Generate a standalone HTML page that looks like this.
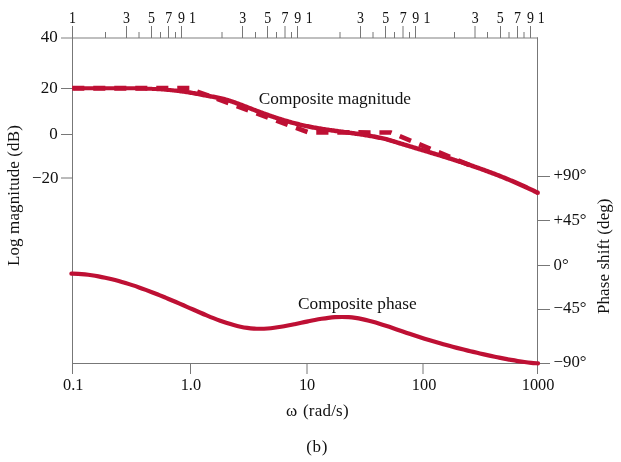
<!DOCTYPE html>
<html><head><meta charset="utf-8"><title>Bode plot</title>
<style>
html,body{margin:0;padding:0;background:#fff;}
body{width:621px;height:462px;overflow:hidden;position:relative;}
svg{position:absolute;left:0;top:0;display:block;will-change:transform;}
text{font-family:"Liberation Serif",serif;font-size:17px;fill:#111;}
</style></head><body>
<svg width="621" height="462" viewBox="0 0 621 462">
<rect width="621" height="462" fill="#fff"/>

<line x1="61" y1="38" x2="538" y2="38" stroke="#808080" stroke-width="1.2"/>
<line x1="72.5" y1="26" x2="72.5" y2="374" stroke="#777" stroke-width="1"/>
<line x1="537.5" y1="37.4" x2="537.5" y2="374" stroke="#777" stroke-width="1"/>
<line x1="72" y1="363.5" x2="550" y2="363.5" stroke="#777" stroke-width="1"/>
<line x1="126.5" y1="26" x2="126.5" y2="38" stroke="#777" stroke-width="1"/>
<line x1="151.5" y1="26" x2="151.5" y2="38" stroke="#777" stroke-width="1"/>
<line x1="168.5" y1="26" x2="168.5" y2="38" stroke="#777" stroke-width="1"/>
<line x1="181.5" y1="26" x2="181.5" y2="38" stroke="#777" stroke-width="1"/>
<line x1="242.5" y1="26" x2="242.5" y2="38" stroke="#777" stroke-width="1"/>
<line x1="267.5" y1="26" x2="267.5" y2="38" stroke="#777" stroke-width="1"/>
<line x1="285.0" y1="26" x2="285.0" y2="38" stroke="#777" stroke-width="1"/>
<line x1="297.5" y1="26" x2="297.5" y2="38" stroke="#777" stroke-width="1"/>
<line x1="360.5" y1="26" x2="360.5" y2="38" stroke="#777" stroke-width="1"/>
<line x1="385.5" y1="26" x2="385.5" y2="38" stroke="#777" stroke-width="1"/>
<line x1="403.0" y1="26" x2="403.0" y2="38" stroke="#777" stroke-width="1"/>
<line x1="415.5" y1="26" x2="415.5" y2="38" stroke="#777" stroke-width="1"/>
<line x1="475.0" y1="26" x2="475.0" y2="38" stroke="#777" stroke-width="1"/>
<line x1="500.5" y1="26" x2="500.5" y2="38" stroke="#777" stroke-width="1"/>
<line x1="517.5" y1="26" x2="517.5" y2="38" stroke="#777" stroke-width="1"/>
<line x1="530.5" y1="26" x2="530.5" y2="38" stroke="#777" stroke-width="1"/>
<line x1="105.5" y1="32" x2="105.5" y2="38" stroke="#777" stroke-width="1"/>
<line x1="139.0" y1="32" x2="139.0" y2="38" stroke="#777" stroke-width="1"/>
<line x1="160.5" y1="32" x2="160.5" y2="38" stroke="#777" stroke-width="1"/>
<line x1="175.5" y1="32" x2="175.5" y2="38" stroke="#777" stroke-width="1"/>
<line x1="222.0" y1="32" x2="222.0" y2="38" stroke="#777" stroke-width="1"/>
<line x1="255.5" y1="32" x2="255.5" y2="38" stroke="#777" stroke-width="1"/>
<line x1="276.5" y1="32" x2="276.5" y2="38" stroke="#777" stroke-width="1"/>
<line x1="291.5" y1="32" x2="291.5" y2="38" stroke="#777" stroke-width="1"/>
<line x1="340.0" y1="32" x2="340.0" y2="38" stroke="#777" stroke-width="1"/>
<line x1="373.0" y1="32" x2="373.0" y2="38" stroke="#777" stroke-width="1"/>
<line x1="394.5" y1="32" x2="394.5" y2="38" stroke="#777" stroke-width="1"/>
<line x1="409.5" y1="32" x2="409.5" y2="38" stroke="#777" stroke-width="1"/>
<line x1="454.5" y1="32" x2="454.5" y2="38" stroke="#777" stroke-width="1"/>
<line x1="487.5" y1="32" x2="487.5" y2="38" stroke="#777" stroke-width="1"/>
<line x1="509.0" y1="32" x2="509.0" y2="38" stroke="#777" stroke-width="1"/>
<line x1="524.0" y1="32" x2="524.0" y2="38" stroke="#777" stroke-width="1"/>
<line x1="61" y1="88.5" x2="72.5" y2="88.5" stroke="#777" stroke-width="1"/>
<line x1="61" y1="134.5" x2="72.5" y2="134.5" stroke="#777" stroke-width="1"/>
<line x1="61" y1="178.0" x2="72.5" y2="178.0" stroke="#777" stroke-width="1"/>
<line x1="537.5" y1="176.5" x2="550" y2="176.5" stroke="#777" stroke-width="1"/>
<line x1="537.5" y1="220.5" x2="550" y2="220.5" stroke="#777" stroke-width="1"/>
<line x1="537.5" y1="265.5" x2="550" y2="265.5" stroke="#777" stroke-width="1"/>
<line x1="537.5" y1="309.5" x2="550" y2="309.5" stroke="#777" stroke-width="1"/>
<line x1="190.5" y1="363.5" x2="190.5" y2="374" stroke="#777" stroke-width="1"/>
<line x1="307.0" y1="363.5" x2="307.0" y2="374" stroke="#777" stroke-width="1"/>
<line x1="423.0" y1="363.5" x2="423.0" y2="374" stroke="#777" stroke-width="1"/>
<path d="M72.25 88.25 L189.5 88.25" fill="none" stroke="#BE1034" stroke-width="5.2" stroke-dasharray="12.1 8.9"/>
<path d="M197.2 91.62 L308.5 132.4 L390.8 132.5 L469.4 165.0" fill="none" stroke="#BE1034" stroke-width="4.7" stroke-dasharray="12.2 8.85" stroke-linejoin="miter"/>
<path d="M74.07 90.23 L75.20 90.25 L76.32 90.26 L77.45 90.27 L78.57 90.28 L79.70 90.29 L80.82 90.30 L81.95 90.31 L83.07 90.31 L84.20 90.32 L85.32 90.32 L86.44 90.32 L87.57 90.33 L88.69 90.33 L89.82 90.33 L90.94 90.33 L92.06 90.32 L93.19 90.32 L94.31 90.32 L95.43 90.32 L96.56 90.31 L97.68 90.31 L98.80 90.30 L99.93 90.30 L101.05 90.29 L102.17 90.29 L103.29 90.28 L104.42 90.28 L105.54 90.27 L106.66 90.27 L107.78 90.26 L108.91 90.26 L110.03 90.25 L111.15 90.25 L112.27 90.24 L113.39 90.24 L114.52 90.24 L115.64 90.24 L116.76 90.24 L117.88 90.23 L119.00 90.23 L120.12 90.24 L121.24 90.24 L122.36 90.24 L123.48 90.24 L124.60 90.25 L125.72 90.25 L126.84 90.26 L127.96 90.27 L129.08 90.28 L130.20 90.29 L131.32 90.30 L132.44 90.32 L133.56 90.33 L134.68 90.35 L135.80 90.37 L136.92 90.39 L138.04 90.41 L139.16 90.44 L140.28 90.47 L141.40 90.49 L142.52 90.52 L143.64 90.56 L144.75 90.59 L145.87 90.63 L146.99 90.67 L148.11 90.71 L149.23 90.76 L150.35 90.80 L151.46 90.85 L152.58 90.90 L153.70 90.96 L154.82 91.02 L155.93 91.08 L157.05 91.14 L158.17 91.21 L159.29 91.27 L160.40 91.35 L161.52 91.43 L162.63 91.52 L163.75 91.61 L164.87 91.70 L165.98 91.80 L167.10 91.90 L168.21 92.00 L169.33 92.11 L170.44 92.22 L171.56 92.33 L172.67 92.45 L173.79 92.57 L174.90 92.70 L176.02 92.83 L177.13 92.96 L178.24 93.10 L179.36 93.24 L180.47 93.39 L181.59 93.53 L182.70 93.69 L183.81 93.85 L184.92 94.01 L186.04 94.18 L187.15 94.35 L188.26 94.53 L189.37 94.71 L190.48 94.90 L191.59 95.09 L192.71 95.29 L193.82 95.49 L194.93 95.70 L196.04 95.90 L197.16 96.11 L198.28 96.32 L199.40 96.54 L200.52 96.76 L201.64 96.98 L202.76 97.19 L203.89 97.41 L205.02 97.62 L206.14 97.84 L207.27 98.04 L208.40 98.25 L209.53 98.45 L210.66 98.65 L211.78 98.85 L212.89 99.05 L214.01 99.25 L215.12 99.46 L216.23 99.67 L217.33 99.89 L218.43 100.12 L219.53 100.37 L220.63 100.62 L221.73 100.88 L222.83 101.16 L223.93 101.45 L225.03 101.76 L226.13 102.08 L227.23 102.41 L228.33 102.75 L229.44 103.10 L230.55 103.46 L231.65 103.83 L232.76 104.21 L233.87 104.60 L234.98 105.00 L236.10 105.40 L237.21 105.81 L238.32 106.22 L239.44 106.64 L240.55 107.06 L241.67 107.49 L242.79 107.92 L243.91 108.35 L245.03 108.79 L246.15 109.23 L247.27 109.66 L248.39 110.10 L249.52 110.54 L250.64 110.98 L251.77 111.41 L252.90 111.85 L254.02 112.28 L255.15 112.71 L256.28 113.14 L257.40 113.56 L258.53 113.98 L259.66 114.40 L260.78 114.82 L261.91 115.23 L263.04 115.64 L264.17 116.05 L265.29 116.45 L266.42 116.85 L267.55 117.25 L268.68 117.64 L269.81 118.04 L270.94 118.42 L272.06 118.81 L273.19 119.19 L274.32 119.56 L275.45 119.94 L276.58 120.31 L277.71 120.67 L278.84 121.03 L279.97 121.39 L281.10 121.74 L282.23 122.09 L283.36 122.43 L284.49 122.77 L285.62 123.11 L286.75 123.44 L287.88 123.77 L289.01 124.09 L290.14 124.40 L291.28 124.72 L292.41 125.02 L293.54 125.32 L294.67 125.62 L295.80 125.91 L296.93 126.20 L298.07 126.48 L299.20 126.75 L300.33 127.02 L301.47 127.29 L302.60 127.55 L303.73 127.80 L304.86 128.05 L306.00 128.29 L307.13 128.52 L308.26 128.75 L309.39 128.98 L310.53 129.20 L311.66 129.42 L312.79 129.63 L313.92 129.83 L315.05 130.04 L316.18 130.23 L317.31 130.43 L318.44 130.62 L319.57 130.81 L320.70 130.99 L321.82 131.17 L322.95 131.35 L324.08 131.52 L325.21 131.69 L326.34 131.86 L327.46 132.03 L328.59 132.19 L329.72 132.35 L330.84 132.51 L331.97 132.67 L333.09 132.83 L334.22 132.98 L335.34 133.14 L336.47 133.29 L337.59 133.44 L338.72 133.59 L339.84 133.74 L340.96 133.89 L342.08 134.04 L343.21 134.19 L344.33 134.34 L345.45 134.49 L346.57 134.64 L347.69 134.79 L348.82 134.94 L349.94 135.10 L351.06 135.25 L352.18 135.40 L353.30 135.56 L354.42 135.72 L355.53 135.88 L356.65 136.04 L357.77 136.20 L358.89 136.36 L360.01 136.53 L361.12 136.70 L362.24 136.87 L363.36 137.05 L364.48 137.23 L365.59 137.41 L366.71 137.59 L367.82 137.78 L368.94 137.97 L370.05 138.16 L371.17 138.36 L372.28 138.57 L373.39 138.78 L374.51 138.99 L375.62 139.21 L376.74 139.43 L377.86 139.66 L378.97 139.89 L380.09 140.12 L381.20 140.35 L382.31 140.59 L383.41 140.84 L384.50 141.10 L385.60 141.37 L386.69 141.66 L387.78 141.97 L388.89 142.30 L389.99 142.63 L391.11 142.97 L392.23 143.32 L393.36 143.67 L394.48 144.01 L395.60 144.36 L396.73 144.70 L397.85 145.04 L398.97 145.39 L400.10 145.73 L401.22 146.07 L402.34 146.41 L403.47 146.75 L404.59 147.09 L405.71 147.43 L406.84 147.77 L407.96 148.11 L409.08 148.45 L410.21 148.78 L411.33 149.12 L412.45 149.46 L413.57 149.80 L414.70 150.14 L415.82 150.47 L416.94 150.81 L418.06 151.15 L419.19 151.49 L420.31 151.82 L421.43 152.16 L422.55 152.50 L423.68 152.84 L424.80 153.18 L425.92 153.52 L427.04 153.86 L428.16 154.20 L429.29 154.54 L430.41 154.88 L431.53 155.22 L432.65 155.56 L433.77 155.90 L434.89 156.24 L436.01 156.59 L437.14 156.93 L438.26 157.27 L439.38 157.62 L440.50 157.97 L441.62 158.31 L442.74 158.66 L443.86 159.01 L444.98 159.36 L446.10 159.71 L447.22 160.06 L448.34 160.41 L449.47 160.77 L450.59 161.12 L451.71 161.48 L452.83 161.84 L453.95 162.19 L455.07 162.55 L456.19 162.92 L457.31 163.28 L458.43 163.64 L459.55 164.01 L460.67 164.37 L461.79 164.74 L462.91 165.11 L464.03 165.48 L465.15 165.86 L466.27 166.23 L467.39 166.61 L468.51 166.98 L469.62 167.36 L470.74 167.75 L471.86 168.13 L472.98 168.51 L474.10 168.90 L475.22 169.29 L476.34 169.68 L477.46 170.07 L478.58 170.47 L479.70 170.87 L480.82 171.27 L481.93 171.67 L483.05 172.07 L484.17 172.48 L485.29 172.89 L486.41 173.30 L487.53 173.71 L488.65 174.13 L489.76 174.54 L490.88 174.96 L492.00 175.39 L493.12 175.81 L494.24 176.24 L495.36 176.67 L496.47 177.11 L497.59 177.54 L498.71 177.98 L499.83 178.42 L500.95 178.87 L502.06 179.31 L503.18 179.76 L504.30 180.22 L505.42 180.67 L506.53 181.13 L507.65 181.60 L508.77 182.06 L509.89 182.53 L511.00 183.00 L512.12 183.48 L513.24 183.95 L514.36 184.44 L515.47 184.92 L516.59 185.41 L517.71 185.90 L518.83 186.40 L519.94 186.89 L521.06 187.40 L522.18 187.90 L523.29 188.41 L524.41 188.92 L525.53 189.44 L526.64 189.96 L527.76 190.48 L528.88 191.01 L530.00 191.54 L531.11 192.08 L532.23 192.62 L533.35 193.16 L534.46 193.70 L535.58 194.26 L536.70 194.81 L538.70 190.78 L537.58 190.22 L536.45 189.67 L535.32 189.11 L534.19 188.57 L533.06 188.02 L531.93 187.48 L530.81 186.94 L529.68 186.41 L528.55 185.88 L527.42 185.36 L526.29 184.83 L525.17 184.32 L524.04 183.80 L522.91 183.29 L521.78 182.79 L520.65 182.28 L519.53 181.78 L518.40 181.29 L517.27 180.79 L516.14 180.31 L515.01 179.82 L513.89 179.34 L512.76 178.86 L511.63 178.38 L510.50 177.91 L509.38 177.44 L508.25 176.97 L507.12 176.51 L505.99 176.05 L504.87 175.59 L503.74 175.14 L502.61 174.69 L501.49 174.24 L500.36 173.79 L499.23 173.35 L498.10 172.91 L496.98 172.47 L495.85 172.04 L494.72 171.61 L493.60 171.18 L492.47 170.75 L491.34 170.33 L490.22 169.91 L489.09 169.49 L487.96 169.07 L486.84 168.66 L485.71 168.25 L484.59 167.84 L483.46 167.43 L482.33 167.03 L481.21 166.63 L480.08 166.23 L478.95 165.83 L477.83 165.43 L476.70 165.04 L475.58 164.65 L474.45 164.26 L473.32 163.87 L472.20 163.49 L471.07 163.10 L469.95 162.72 L468.82 162.34 L467.70 161.96 L466.57 161.59 L465.45 161.21 L464.32 160.84 L463.20 160.47 L462.07 160.10 L460.95 159.73 L459.82 159.36 L458.70 159.00 L457.57 158.63 L456.45 158.27 L455.32 157.91 L454.20 157.55 L453.07 157.19 L451.95 156.83 L450.82 156.48 L449.70 156.12 L448.57 155.77 L447.45 155.42 L446.32 155.06 L445.20 154.71 L444.08 154.36 L442.95 154.01 L441.83 153.67 L440.70 153.32 L439.58 152.97 L438.46 152.63 L437.33 152.28 L436.21 151.94 L435.09 151.60 L433.96 151.25 L432.84 150.91 L431.71 150.57 L430.59 150.23 L429.47 149.89 L428.34 149.55 L427.22 149.21 L426.10 148.87 L424.98 148.53 L423.85 148.19 L422.73 147.85 L421.61 147.52 L420.48 147.18 L419.36 146.84 L418.24 146.50 L417.12 146.16 L415.99 145.83 L414.87 145.49 L413.75 145.15 L412.63 144.81 L411.50 144.48 L410.38 144.14 L409.26 143.80 L408.14 143.46 L407.02 143.12 L405.89 142.78 L404.77 142.44 L403.65 142.10 L402.53 141.76 L401.41 141.42 L400.29 141.08 L399.16 140.74 L398.04 140.40 L396.92 140.05 L395.80 139.71 L394.68 139.37 L393.56 139.02 L392.43 138.67 L391.31 138.33 L390.17 137.98 L389.03 137.65 L387.88 137.32 L386.72 137.02 L385.57 136.73 L384.42 136.45 L383.28 136.20 L382.14 135.95 L381.01 135.71 L379.88 135.48 L378.75 135.25 L377.62 135.02 L376.49 134.80 L375.36 134.58 L374.23 134.36 L373.10 134.14 L371.97 133.94 L370.84 133.73 L369.71 133.54 L368.58 133.34 L367.45 133.15 L366.32 132.97 L365.19 132.78 L364.06 132.60 L362.93 132.43 L361.81 132.25 L360.68 132.08 L359.55 131.91 L358.42 131.75 L357.30 131.58 L356.17 131.42 L355.04 131.26 L353.92 131.10 L352.79 130.95 L351.67 130.79 L350.54 130.64 L349.42 130.48 L348.29 130.33 L347.17 130.18 L346.05 130.03 L344.92 129.88 L343.80 129.73 L342.68 129.58 L341.56 129.43 L340.43 129.28 L339.31 129.13 L338.19 128.98 L337.07 128.83 L335.95 128.68 L334.83 128.53 L333.71 128.37 L332.59 128.22 L331.47 128.06 L330.35 127.90 L329.23 127.74 L328.12 127.58 L327.00 127.41 L325.88 127.24 L324.76 127.07 L323.65 126.90 L322.53 126.73 L321.41 126.55 L320.30 126.37 L319.18 126.18 L318.06 125.99 L316.95 125.80 L315.83 125.61 L314.72 125.41 L313.61 125.20 L312.49 124.99 L311.38 124.78 L310.26 124.56 L309.15 124.34 L308.04 124.12 L306.93 123.88 L305.81 123.65 L304.70 123.40 L303.59 123.16 L302.48 122.90 L301.36 122.64 L300.25 122.38 L299.14 122.11 L298.03 121.83 L296.91 121.55 L295.80 121.27 L294.69 120.97 L293.58 120.68 L292.46 120.38 L291.35 120.07 L290.23 119.76 L289.12 119.44 L288.01 119.12 L286.89 118.79 L285.78 118.46 L284.66 118.13 L283.55 117.79 L282.43 117.44 L281.32 117.10 L280.20 116.74 L279.09 116.39 L277.97 116.03 L276.86 115.66 L275.74 115.29 L274.62 114.92 L273.51 114.54 L272.39 114.16 L271.27 113.78 L270.16 113.39 L269.04 113.00 L267.92 112.61 L266.81 112.21 L265.69 111.81 L264.57 111.41 L263.45 111.00 L262.34 110.59 L261.22 110.18 L260.10 109.77 L258.98 109.35 L257.87 108.93 L256.75 108.50 L255.63 108.08 L254.51 107.65 L253.39 107.22 L252.27 106.78 L251.15 106.35 L250.03 105.91 L248.91 105.47 L247.79 105.03 L246.66 104.60 L245.54 104.16 L244.41 103.72 L243.28 103.29 L242.16 102.86 L241.03 102.43 L239.90 102.00 L238.77 101.58 L237.63 101.17 L236.50 100.76 L235.37 100.36 L234.23 99.96 L233.10 99.57 L231.96 99.19 L230.82 98.82 L229.68 98.46 L228.54 98.10 L227.40 97.76 L226.25 97.43 L225.11 97.11 L223.96 96.81 L222.81 96.51 L221.67 96.24 L220.52 95.97 L219.38 95.72 L218.23 95.48 L217.09 95.26 L215.96 95.04 L214.82 94.82 L213.69 94.62 L212.56 94.42 L211.44 94.22 L210.32 94.02 L209.20 93.82 L208.09 93.62 L206.97 93.41 L205.85 93.20 L204.73 92.99 L203.62 92.77 L202.49 92.56 L201.37 92.34 L200.25 92.12 L199.12 91.91 L198.00 91.69 L196.87 91.48 L195.74 91.27 L194.60 91.07 L193.47 90.88 L192.33 90.69 L191.20 90.51 L190.07 90.34 L188.93 90.17 L187.80 90.01 L186.67 89.85 L185.53 89.69 L184.40 89.54 L183.27 89.40 L182.14 89.26 L181.01 89.12 L179.87 88.99 L178.74 88.86 L177.61 88.74 L176.48 88.62 L175.35 88.51 L174.22 88.40 L173.09 88.29 L171.96 88.19 L170.83 88.09 L169.70 87.99 L168.57 87.90 L167.44 87.81 L166.31 87.73 L165.18 87.64 L164.05 87.57 L162.92 87.49 L161.79 87.42 L160.67 87.35 L159.54 87.28 L158.41 87.21 L157.28 87.15 L156.15 87.08 L155.03 87.02 L153.90 86.96 L152.77 86.91 L151.64 86.86 L150.52 86.81 L149.39 86.76 L148.26 86.71 L147.14 86.67 L146.01 86.63 L144.88 86.59 L143.76 86.56 L142.63 86.53 L141.50 86.50 L140.38 86.47 L139.25 86.44 L138.13 86.41 L137.00 86.39 L135.87 86.37 L134.75 86.35 L133.62 86.33 L132.50 86.32 L131.37 86.30 L130.25 86.29 L129.12 86.28 L128.00 86.27 L126.87 86.26 L125.75 86.25 L124.62 86.25 L123.50 86.24 L122.37 86.24 L121.25 86.24 L120.13 86.24 L119.00 86.23 L117.88 86.23 L116.75 86.24 L115.63 86.24 L114.51 86.24 L113.38 86.24 L112.26 86.24 L111.14 86.25 L110.01 86.25 L108.89 86.26 L107.77 86.26 L106.64 86.27 L105.52 86.27 L104.40 86.28 L103.28 86.28 L102.15 86.29 L101.03 86.29 L99.91 86.30 L98.79 86.30 L97.67 86.31 L96.54 86.31 L95.42 86.32 L94.30 86.32 L93.18 86.32 L92.06 86.32 L90.94 86.33 L89.81 86.33 L88.69 86.33 L87.57 86.33 L86.45 86.32 L85.33 86.32 L84.21 86.32 L83.09 86.31 L81.97 86.31 L80.85 86.30 L79.73 86.29 L78.61 86.28 L77.49 86.27 L76.37 86.26 L75.25 86.25 L74.13 86.23Z" fill="#BE1034" stroke="none"/>
<circle cx="537.70" cy="192.80" r="2.25" fill="#BE1034"/>
<circle cx="74.10" cy="88.23" r="2.00" fill="#BE1034"/>
<path d="M71.40 273.64 C72.53 273.68 75.91 273.76 78.16 273.89 C80.42 274.03 82.67 274.21 84.92 274.44 C87.18 274.67 89.43 274.95 91.69 275.27 C93.94 275.59 96.20 275.95 98.45 276.35 C100.70 276.76 102.96 277.21 105.21 277.69 C107.47 278.17 109.72 278.69 111.97 279.25 C114.23 279.80 116.48 280.40 118.74 281.02 C120.99 281.64 123.24 282.30 125.50 282.98 C127.75 283.67 130.01 284.38 132.26 285.13 C134.51 285.87 136.77 286.64 139.02 287.43 C141.28 288.22 143.53 289.03 145.79 289.87 C148.04 290.71 150.29 291.56 152.55 292.44 C154.80 293.31 157.06 294.21 159.31 295.12 C161.56 296.02 163.82 296.95 166.07 297.89 C168.33 298.82 170.58 299.77 172.83 300.73 C175.09 301.69 177.34 302.66 179.60 303.63 C181.85 304.60 184.11 305.59 186.36 306.57 C188.61 307.56 190.87 308.55 193.12 309.54 C195.38 310.52 197.63 311.52 199.88 312.49 C202.14 313.47 204.39 314.44 206.65 315.38 C208.90 316.32 211.15 317.26 213.41 318.15 C215.66 319.03 217.92 319.90 220.17 320.72 C222.43 321.53 224.68 322.32 226.93 323.04 C229.19 323.76 231.44 324.44 233.70 325.05 C235.95 325.66 238.20 326.22 240.46 326.69 C242.71 327.16 244.97 327.57 247.22 327.89 C249.47 328.21 251.73 328.45 253.98 328.59 C256.24 328.74 258.49 328.79 260.74 328.77 C263.00 328.74 265.25 328.63 267.51 328.47 C269.76 328.30 272.02 328.06 274.27 327.78 C276.52 327.50 278.78 327.16 281.03 326.79 C283.29 326.42 285.54 326.00 287.79 325.56 C290.05 325.13 292.30 324.66 294.56 324.19 C296.81 323.72 299.06 323.23 301.32 322.75 C303.57 322.27 305.83 321.78 308.08 321.32 C310.34 320.86 312.59 320.40 314.84 319.98 C317.10 319.55 319.35 319.15 321.61 318.79 C323.86 318.44 326.11 318.11 328.37 317.85 C330.62 317.58 332.88 317.36 335.13 317.22 C337.38 317.07 339.64 316.98 341.89 316.98 C344.15 316.98 346.40 317.05 348.66 317.21 C350.91 317.37 353.16 317.63 355.42 317.95 C357.67 318.28 359.93 318.69 362.18 319.15 C364.43 319.61 366.69 320.14 368.94 320.71 C371.20 321.28 373.45 321.92 375.70 322.57 C377.96 323.23 380.21 323.93 382.47 324.64 C384.72 325.36 386.97 326.11 389.23 326.86 C391.48 327.61 393.74 328.39 395.99 329.16 C398.25 329.94 400.50 330.72 402.75 331.50 C405.01 332.28 407.26 333.06 409.52 333.83 C411.77 334.59 414.02 335.35 416.28 336.09 C418.53 336.82 420.79 337.55 423.04 338.25 C425.29 338.96 427.55 339.65 429.80 340.33 C432.06 341.01 434.31 341.68 436.57 342.33 C438.82 342.98 441.07 343.62 443.33 344.24 C445.58 344.87 447.84 345.48 450.09 346.09 C452.34 346.69 454.60 347.28 456.85 347.86 C459.11 348.44 461.36 349.01 463.61 349.57 C465.87 350.13 468.12 350.68 470.38 351.22 C472.63 351.76 474.89 352.29 477.14 352.82 C479.39 353.34 481.65 353.86 483.90 354.36 C486.16 354.87 488.41 355.37 490.66 355.87 C492.92 356.36 495.17 356.84 497.43 357.31 C499.68 357.78 501.93 358.24 504.19 358.68 C506.44 359.11 508.70 359.54 510.95 359.94 C513.20 360.33 515.46 360.71 517.71 361.06 C519.97 361.41 522.22 361.74 524.48 362.03 C526.73 362.32 528.98 362.59 531.24 362.81 C533.49 363.04 536.87 363.29 538.00 363.39" fill="none" stroke="#BE1034" stroke-width="4.2" stroke-linecap="round" stroke-linejoin="round"/>
<text transform="translate(72.5 22.5) scale(0.86 1)" text-anchor="middle" style="font-size:16.2px">1</text>
<text transform="translate(126.4 22.5) scale(0.86 1)" text-anchor="middle" style="font-size:16.2px">3</text>
<text transform="translate(151.4 22.5) scale(0.86 1)" text-anchor="middle" style="font-size:16.2px">5</text>
<text transform="translate(168.6 22.5) scale(0.86 1)" text-anchor="middle" style="font-size:16.2px">7</text>
<text transform="translate(181.5 22.5) scale(0.86 1)" text-anchor="middle" style="font-size:16.2px">9</text>
<text transform="translate(192.5 22.5) scale(0.86 1)" text-anchor="middle" style="font-size:16.2px">1</text>
<text transform="translate(242.6 22.5) scale(0.86 1)" text-anchor="middle" style="font-size:16.2px">3</text>
<text transform="translate(267.8 22.5) scale(0.86 1)" text-anchor="middle" style="font-size:16.2px">5</text>
<text transform="translate(285.0 22.5) scale(0.86 1)" text-anchor="middle" style="font-size:16.2px">7</text>
<text transform="translate(297.8 22.5) scale(0.86 1)" text-anchor="middle" style="font-size:16.2px">9</text>
<text transform="translate(309.1 22.5) scale(0.86 1)" text-anchor="middle" style="font-size:16.2px">1</text>
<text transform="translate(360.5 22.5) scale(0.86 1)" text-anchor="middle" style="font-size:16.2px">3</text>
<text transform="translate(385.7 22.5) scale(0.86 1)" text-anchor="middle" style="font-size:16.2px">5</text>
<text transform="translate(403.1 22.5) scale(0.86 1)" text-anchor="middle" style="font-size:16.2px">7</text>
<text transform="translate(415.6 22.5) scale(0.86 1)" text-anchor="middle" style="font-size:16.2px">9</text>
<text transform="translate(427.0 22.5) scale(0.86 1)" text-anchor="middle" style="font-size:16.2px">1</text>
<text transform="translate(475.1 22.5) scale(0.86 1)" text-anchor="middle" style="font-size:16.2px">3</text>
<text transform="translate(500.3 22.5) scale(0.86 1)" text-anchor="middle" style="font-size:16.2px">5</text>
<text transform="translate(517.5 22.5) scale(0.86 1)" text-anchor="middle" style="font-size:16.2px">7</text>
<text transform="translate(530.4 22.5) scale(0.86 1)" text-anchor="middle" style="font-size:16.2px">9</text>
<text transform="translate(541.2 22.5) scale(0.86 1)" text-anchor="middle" style="font-size:16.2px">1</text>
<text x="57.8" y="42.1" text-anchor="end">40</text>
<text x="57.8" y="92.8" text-anchor="end">20</text>
<text x="57.8" y="139.1" text-anchor="end">0</text>
<text x="58.6" y="183.0" text-anchor="end">−20</text>
<text x="553.6" y="180.3" style="font-size:16.8px">+90°</text>
<text x="553.6" y="225.0" style="font-size:16.8px">+45°</text>
<text x="553.6" y="270.3" style="font-size:16.8px">0°</text>
<text x="553.6" y="313.3" style="font-size:16.8px">−45°</text>
<text x="553.6" y="366.6" style="font-size:16.8px">−90°</text>
<text transform="translate(73.2 390.4) scale(0.98 1)" text-anchor="middle" style="font-size:16.7px">0.1</text>
<text transform="translate(190.9 390.4) scale(0.98 1)" text-anchor="middle" style="font-size:16.7px">1.0</text>
<text transform="translate(307.1 390.4) scale(0.98 1)" text-anchor="middle" style="font-size:16.7px">10</text>
<text transform="translate(424.1 390.4) scale(0.98 1)" text-anchor="middle" style="font-size:16.7px">100</text>
<text transform="translate(538.1 390.4) scale(0.98 1)" text-anchor="middle" style="font-size:16.7px">1000</text>
<text x="286" y="416">ω</text>
<text x="303" y="416" style="letter-spacing:0.2px">(rad/s)</text>
<text x="306.3" y="452.2" style="letter-spacing:0.6px">(b)</text>
<text x="258.8" y="103.8" style="font-size:17.3px">Composite magnitude</text>
<text x="298.1" y="309" style="font-size:17.3px">Composite phase</text>
<text transform="translate(18.7 266) rotate(-90)" style="letter-spacing:0.12px">Log magnitude (dB)</text>
<text transform="translate(608.7 314) rotate(-90)" style="letter-spacing:0.08px">Phase shift (deg)</text>
</svg></body></html>
